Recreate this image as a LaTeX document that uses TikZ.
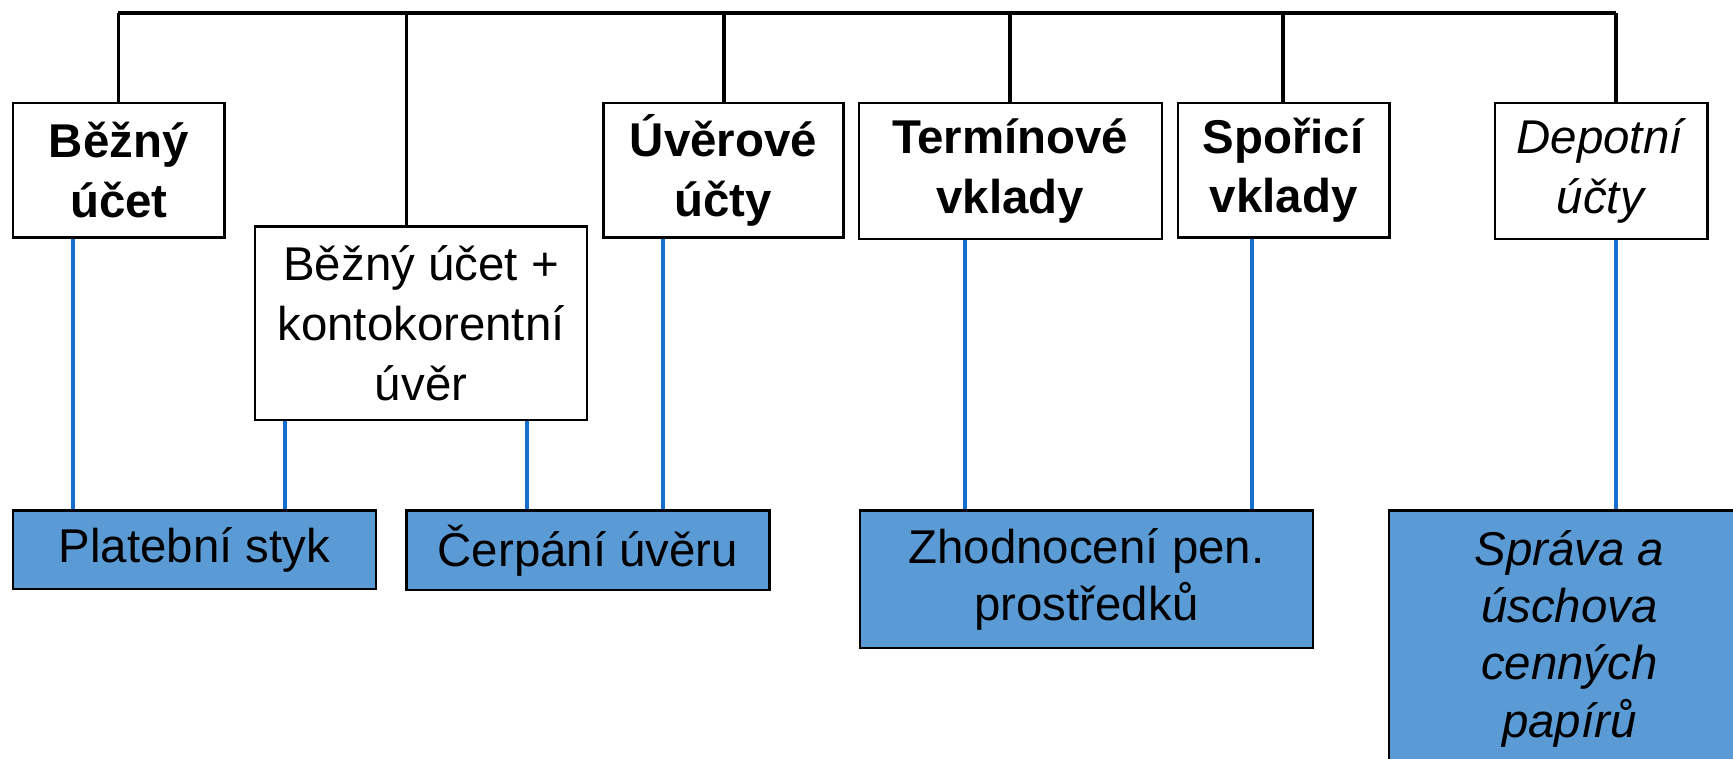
\documentclass[tikz,border=0pt]{standalone}
\usepackage{fontspec}
\setmainfont{Liberation Sans}
\usetikzlibrary{positioning}

\definecolor{boxblue}{RGB}{91,155,213}
\definecolor{lineblue}{RGB}{22,110,205}

\tikzset{
	topbox/.style={draw=black, line width=0.6pt, fill=white, align=center, inner sep=0pt},
	lowbox/.style={draw=black, line width=0.6pt, fill=boxblue, align=center, inner sep=0pt,
		font=\fontsize{12.2}{14.7}\selectfont},
	busline/.style={draw=black, line width=0.9pt},
	feedline/.style={draw=lineblue, line width=0.9pt},
}

\begin{document}
\begin{tikzpicture}[x=0.01cm, y=-0.01cm]
	\fontsize{12.2}{15.4}\selectfont
	\useasboundingbox (0,0) rectangle (1568,686);

	% accounts
	\node[topbox, minimum width=1.91cm, minimum height=1.22cm] (bezny) at (107.5,154) {\textbf{Běžný}\\\textbf{účet}};
	\node[topbox, minimum width=3.00cm, minimum height=1.75cm] (kontokorent) at (381,292.5) {Běžný účet +\\kontokorentní\\úvěr};
	\node[topbox, minimum width=2.17cm, minimum height=1.22cm] (uverove) at (654.5,154) {\textbf{Úvěrové}\\\textbf{účty}};
	\node[topbox, minimum width=2.74cm, minimum height=1.23cm] (terminove) at (914,154.5) {\textbf{Termínové}\\\textbf{vklady}};
	\node[topbox, minimum width=1.91cm, minimum height=1.22cm] (sporici) at (1161.5,154) {\textbf{Spořicí}\\\textbf{vklady}};
	\node[topbox, minimum width=1.92cm, minimum height=1.23cm] (depotni) at (1449,154.5) {\textit{Depotní}\\\textit{účty}};

	% purposes
	\node[lowbox, minimum width=3.28cm, minimum height=0.71cm] (platebni) at (176,497.5) {Platební styk};
	\node[lowbox, minimum width=3.28cm, minimum height=0.72cm] (cerpani) at (532,498) {Čerpání úvěru};
	\node[lowbox, minimum width=4.10cm, minimum height=1.24cm] (zhodnoceni) at (983,524) {Zhodnocení pen.\\prostředků};
	\node[lowbox, minimum width=3.26cm, minimum height=2.32cm] (sprava) at (1420,578) {\textit{Správa a}\\\textit{úschova}\\\textit{cenných}\\\textit{papírů}};

	% bus
	\coordinate (busL) at (107,12);
	\coordinate (busR) at (1462,12);
	\foreach \cx/\name in {107/a, 368/b, 655/c, 914/d, 1161/e, 1462/f}
		\coordinate (stem\name) at (\cx,12);
	\draw[busline] (busL) -- (busR);
	\draw[busline] (stema) -- (stema |- bezny.north);
	\draw[busline] (stemb) -- (stemb |- kontokorent.north);
	\draw[busline] (stemc) -- (stemc |- uverove.north);
	\draw[busline] (stemd) -- (stemd |- terminove.north);
	\draw[busline] (steme) -- (steme |- sporici.north);
	\draw[busline] (stemf) -- (stemf |- depotni.north);

	% feeds
	\foreach \cx/\name in {66/a, 258/b, 477/c, 600/d, 873/e, 1133/f, 1462/g}
		\coordinate (feed\name) at (\cx,0);
	\draw[feedline] (feeda |- bezny.south) -- (feeda |- platebni.north);
	\draw[feedline] (feedb |- kontokorent.south) -- (feedb |- platebni.north);
	\draw[feedline] (feedc |- kontokorent.south) -- (feedc |- cerpani.north);
	\draw[feedline] (feedd |- uverove.south) -- (feedd |- cerpani.north);
	\draw[feedline] (feede |- terminove.south) -- (feede |- zhodnoceni.north);
	\draw[feedline] (feedf |- sporici.south) -- (feedf |- zhodnoceni.north);
	\draw[feedline] (feedg |- depotni.south) -- (feedg |- sprava.north);

\end{tikzpicture}
\end{document}
